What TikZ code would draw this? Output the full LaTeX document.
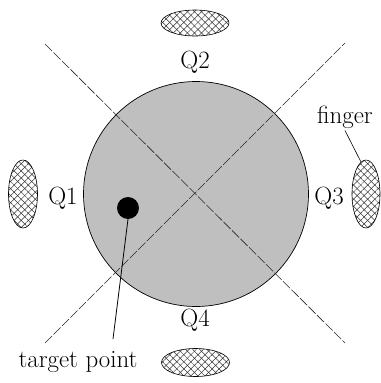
\documentclass[tikz,border=0pt]{standalone}
\usetikzlibrary{patterns.meta}
\begin{document}
\begin{tikzpicture}[x=1bp,y=-1bp,
  lab/.style={font=\fontsize{25}{30}\selectfont, inner sep=0pt},
  hatchA/.style={pattern={Lines[angle=45,distance=5bp,line width=0.5bp]}, pattern color=black!80},
  hatchB/.style={pattern={Lines[angle=-45,distance=5bp,line width=0.5bp]}, pattern color=black!80},
  axis/.style={line width=0.6bp, black!85, dash pattern=on 10bp off 2bp}]
\useasboundingbox (0,0) rectangle (381,383);
% circle
\fill[gray!50] (196,194) circle[radius=112.5];
\draw[line width=0.7bp] (196,194) circle[radius=112.5];
% axes
\coordinate (a1) at (45,44); \coordinate (a2) at (345,343);
\coordinate (b1) at (45,343); \coordinate (b2) at (345,43);
\draw[axis] (a1) -- (a2);
\draw[axis] (b1) -- (b2);
% finger pads
\foreach \n/\cx/\cy/\rx/\ry in {top/195/23/34/13, bot/195.5/362.5/34/14, left/23/194/14.5/34, right/366/194/14/34}{
  \fill[hatchA] (\cx,\cy) ellipse[x radius=\rx, y radius=\ry];
  \fill[hatchB] (\cx,\cy) ellipse[x radius=\rx, y radius=\ry];
  \draw[line width=0.6bp] (\cx,\cy) ellipse[x radius=\rx, y radius=\ry];
  \coordinate (pad-\n) at (\cx,\cy);
}
\coordinate (padtip) at (361,162);
% labels
\node[lab] (q2) at (195,62) {Q2};
\node[lab] (q1) at (63,198) {Q1};
\node[lab] (q3) at (329,198) {Q3};
\node[lab] (q4) at (195,320) {Q4};
\node[lab] (fing) at (345,117) {finger};
\node[lab] (tp) at (78,362) {target point};
% target point
\node[circle, fill=black, minimum size=22bp, inner sep=0pt] (dot) at (128,208) {};
\draw[line width=0.8bp] (dot.south) -- (113,339);
\draw[line width=0.6bp] (fing.south) ++(0,2) -- (padtip);
\end{tikzpicture}
\end{document}
